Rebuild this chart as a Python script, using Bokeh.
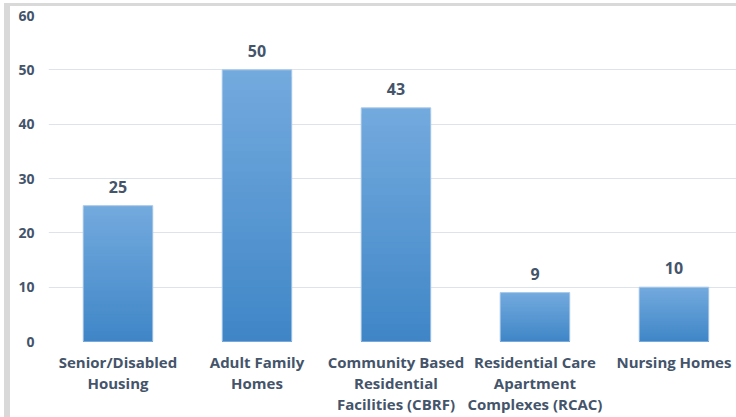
from bokeh.plotting import figure
from bokeh.models import Range1d, FixedTicker, ColumnDataSource, Div
from bokeh.layouts import column, row
from bokeh.core.properties import value
from bokeh.embed import file_html
from bokeh.resources import INLINE

categories = ["Senior/Disabled\nHousing", "Adult Family\nHomes",
              "Community Based\nResidential\nFacilities (CBRF)",
              "Residential Care\nApartment\nComplexes (RCAC)", "Nursing Homes"]
counts = [25, 50, 43, 9, 10]
y_ticks = [0, 10, 20, 30, 40, 50, 60]

TEXT = "#44546a"
FONT = "Open Sans"
FRAME_GRAY = "#d9d9d9"

p = figure(width=726, height=411, output_backend="svg", toolbar_location=None,
           x_range=Range1d(-0.5, 4.45), y_range=Range1d(0, 60),
           min_border_left=38, min_border_right=0, min_border_top=9,
           min_border_bottom=76, margin=0)
p.outline_line_color = None
p.background_fill_color = "white"
p.border_fill_color = "white"

# gradient bars built from the counts: overlapping bars from the base,
# tallest (lightest) first, shorter (darker) drawn over them
N = 40
top_c = (0x74, 0xaa, 0xde)
bot_c = (0x3f, 0x86, 0xc7)
idx = list(range(len(counts)))
for j in range(N, 0, -1):
    f = (j - 0.5) / N
    c = "#%02x%02x%02x" % tuple(int(round(bot_c[k] + (top_c[k] - bot_c[k]) * f)) for k in range(3))
    p.vbar(x=idx, top=[v * j / N for v in counts], bottom=0, width=0.5,
           fill_color=c, line_color=None)
p.vbar(x=idx, top=counts, bottom=0, width=0.5, fill_color=None, line_color="#a9c9ea", line_width=1)

src = ColumnDataSource(dict(x=idx, y=counts, t=[str(c) for c in counts]))
p.text(x="x", y="y", text="t", source=src, y_offset=-19, text_align="center",
       text_baseline="alphabetic", text_font=value(FONT), text_font_style="bold",
       text_font_size="16px", text_color=TEXT)

# axes
p.xaxis.ticker = FixedTicker(ticks=idx)
p.xaxis.major_label_overrides = {i: c for i, c in enumerate(categories)}
p.xaxis.major_label_text_font = FONT
p.xaxis.major_label_text_font_style = "bold"
p.xaxis.major_label_text_font_size = "15px"
p.xaxis.major_label_text_color = TEXT
p.xaxis.major_label_text_line_height = 1.05
p.xaxis.major_label_standoff = 4
p.xaxis.axis_line_color = None
p.xaxis.major_tick_line_color = None
p.xaxis.minor_tick_line_color = None

p.yaxis.ticker = FixedTicker(ticks=y_ticks)
p.yaxis.major_label_text_font = FONT
p.yaxis.major_label_text_font_style = "bold"
p.yaxis.major_label_text_font_size = "14px"
p.yaxis.major_label_text_color = TEXT
p.yaxis.major_label_standoff = 8
p.yaxis.axis_line_color = None
p.yaxis.major_tick_line_color = None
p.yaxis.minor_tick_line_color = None

p.xgrid.grid_line_color = None
p.ygrid.grid_line_color = "#dde3ea"
p.ygrid.grid_line_width = 1

# gray picture frame on the top and left edges
top_strip = Div(text="", width=732, height=3, margin=0,
                styles={"background-color": FRAME_GRAY})
left_strip = Div(text="", width=6, height=411, margin=0,
                 styles={"background-color": FRAME_GRAY})
page = column(top_strip, row(left_strip, p, spacing=0, margin=0),
              spacing=0, margin=(3, 0, 0, 4))

open("out.html", "w").write(file_html(page, INLINE))
